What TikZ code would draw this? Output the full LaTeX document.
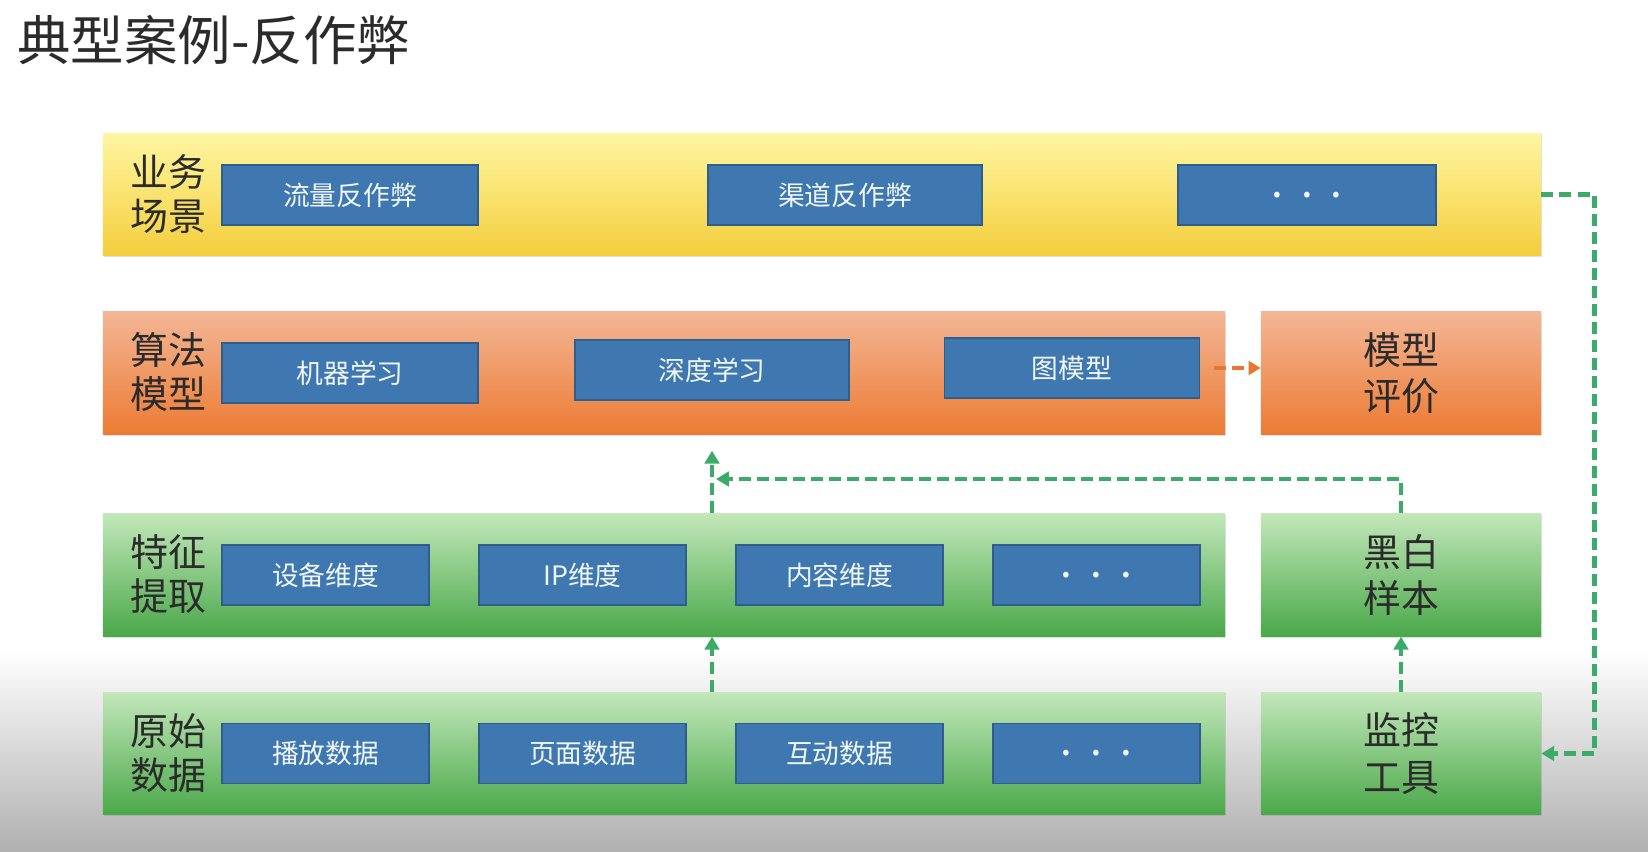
\documentclass[tikz,border=0pt]{standalone}
\usepackage{fontspec}
\newfontfamily\cjk{Noto Sans CJK SC}
\usetikzlibrary{arrows.meta, positioning, shadows}
\definecolor{bizlight}{HTML}{FFF6A2}
\definecolor{bizdark}{HTML}{F3CE3C}
\definecolor{algolight}{HTML}{F3B695}
\definecolor{algodark}{HTML}{EC7B34}
\definecolor{featlight}{HTML}{C2E7BA}
\definecolor{featdark}{HTML}{4AA849}
\definecolor{boxblue}{HTML}{3F78B0}
\definecolor{boxedge}{HTML}{2E5E8C}
\definecolor{linkgreen}{HTML}{3CAB6A}
\definecolor{linkorange}{HTML}{E9772E}
\definecolor{labelink}{HTML}{2B2B2B}

\begin{document}
\begin{tikzpicture}[
    x=0.025cm, y=-0.025cm,
    band/.style={minimum height=3.07cm, inner sep=0pt,
        drop shadow={opacity=0.25, shadow xshift=0.6pt, shadow yshift=-1pt}},
    bizband/.style={band, top color=bizlight, bottom color=bizdark},
    algoband/.style={band, top color=algolight, bottom color=algodark},
    featband/.style={band, top color=featlight, bottom color=featdark},
    sidebox/.style={minimum width=7cm, align=center, text=labelink,
        font=\cjk\fontsize{27}{33}\selectfont},
    bluebox/.style={fill=boxblue, draw=boxedge, line width=0.8pt,
        minimum height=1.5cm, inner sep=0pt, text=white!93!boxblue,
        font=\cjk\fontsize{19}{22}\selectfont},
    morebox/.style={bluebox, font=\cjk\fontsize{30}{30}\selectfont},
    rowlabel/.style={align=center, text=labelink, inner sep=0pt,
        font=\cjk\fontsize{27}{31}\selectfont},
    greenlink/.style={draw=linkgreen, line width=3pt,
        dash pattern=on 0.3cm off 0.15cm,
        -{Triangle[length=0.32cm, width=0.36cm]}},
    orangelink/.style={draw=linkorange, line width=3pt,
        dash pattern=on 0.3cm off 0.15cm,
        -{Triangle[length=0.3cm, width=0.34cm]}},
]
    \useasboundingbox (0,0) rectangle (1648,852);
    % grey fade at the bottom
    \fill[top color=white, bottom color=gray!62] (0,650) rectangle (1648,852);

    % Title
    \node[anchor=west, inner sep=0pt, text=labelink, font=\cjk\fontsize{38}{42}\selectfont]
        (title) at (17,40) {典型案例-反作弊};

    % Row 1: business scenes
    \node[bizband, minimum width=35.95cm] (biz) at (822,194.5) {};
    \node[rowlabel] (bizlabel) at (168,194) {业务\\场景};
    \node[bluebox, minimum width=6.4cm] (traffic) at (350,195) {流量反作弊};
    \node[bluebox, minimum width=6.85cm] (channel) at (845,195) {渠道反作弊};
    \node[morebox, minimum width=6.45cm] (bizmore) at (1307,195) {.\hspace{0.45cm}.\hspace{0.45cm}.};

    % Row 2: algorithms
    \node[algoband, minimum width=28.05cm] (algo) at (664,373) {};
    \node[algoband, sidebox] (eval) at (1401,373) {模型\\评价};
    \node[rowlabel] (algolabel) at (168,372) {算法\\模型};
    \node[bluebox, minimum width=6.4cm] (ml) at (350,373) {机器学习};
    \node[bluebox, minimum width=6.85cm] (deep) at (712,370) {深度学习};
    \node[bluebox, minimum width=6.375cm] (graphm) at (1072,368) {图模型};

    % Row 3: features
    \node[featband, minimum width=28.05cm] (feat) at (664,575) {};
    \node[featband, sidebox] (sample) at (1401,575) {黑白\\样本};
    \node[rowlabel] (featlabel) at (168,574) {特征\\提取};
    \node[bluebox, minimum width=5.175cm] (device) at (325.5,575) {设备维度};
    \node[bluebox, minimum width=5.175cm, right=1.22cm of device] (ipdim) {IP维度};
    \node[bluebox, minimum width=5.175cm, right=1.22cm of ipdim] (content) {内容维度};
    \node[morebox, minimum width=5.175cm, right=1.22cm of content] (featmore) {.\hspace{0.45cm}.\hspace{0.45cm}.};

    % Row 4: raw data
    \node[featband, minimum width=28.05cm] (raw) at (664,753.5) {};
    \node[featband, sidebox] (monitor) at (1401,753.5) {监控\\工具};
    \node[rowlabel] (rawlabel) at (168,753) {原始\\数据};
    \node[bluebox, minimum width=5.175cm] (play) at (325.5,753.5) {播放数据};
    \node[bluebox, minimum width=5.175cm, right=1.22cm of play] (page) {页面数据};
    \node[bluebox, minimum width=5.175cm, right=1.22cm of page] (interact) {互动数据};
    \node[morebox, minimum width=5.175cm, right=1.22cm of interact] (rawmore) {.\hspace{0.45cm}.\hspace{0.45cm}.};

    % Links
    \coordinate (fbend) at (716,479);
    \path[greenlink] (raw.north -| deep.south) -- (feat.south -| deep.south);
    \path[greenlink, shorten >=0.4cm] (feat.north -| deep.south) -- (algo.south -| deep.south);
    \path[greenlink] (sample.north) |- (fbend);
    \path[greenlink] (monitor.north) -- (sample.south);
    \path[greenlink] (biz.east) -- ++(53,0) |- (monitor.east);
    \path[orangelink, shorten <=0.35cm] (graphm.east) -- (eval.west |- graphm.east);
\end{tikzpicture}
\end{document}
